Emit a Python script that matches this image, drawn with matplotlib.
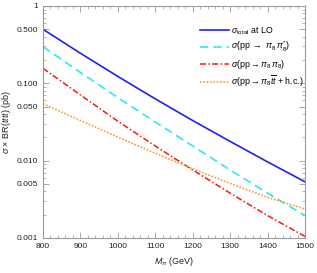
import numpy as np
import matplotlib
matplotlib.use("Agg")
import matplotlib.pyplot as plt
from matplotlib.ticker import FixedLocator, FixedFormatter, NullFormatter

plt.rcParams['font.family'] = ['Liberation Sans', 'DejaVu Sans']
plt.rcParams['mathtext.fontset'] = 'custom'
plt.rcParams['mathtext.rm'] = 'Liberation Sans'
plt.rcParams['mathtext.it'] = 'Liberation Sans:italic'

# data (masses in GeV, cross sections in pb)
mass = [800, 900, 1000, 1100, 1200, 1300, 1400, 1500]
sigma_total = [10**v for v in [-0.301, -0.611, -0.911, -1.201, -1.481, -1.751, -2.016, -2.273]]
sigma_pair_conj = [10**v for v in [-0.526, -0.860, -1.185, -1.50, -1.81, -2.12, -2.42, -2.71]]
sigma_pair = [10**v for v in [-0.806, -1.15, -1.49, -1.81, -2.12, -2.42, -2.71, -2.98]]
sigma_assoc = [10**v for v in [-1.264, -1.48, -1.695, -1.905, -2.105, -2.295, -2.475, -2.625]]

labels = [r"$\sigma_{\rm total}$ at LO",
          r"$\sigma$(pp $\rightarrow$ $\pi_8\,\pi_8^{*}$)",
          r"$\sigma$(pp$\rightarrow$$\pi_8\,\pi_8$)",
          r"$\sigma$(pp$\rightarrow$$\pi_8\overline{tt}$ + h.c.)"]

yticks = [0.001, 0.005, 0.010, 0.050, 0.100, 0.500, 1]
yticklabels = ["0.001", "0.005", "0.010", "0.050", "0.100", "0.500", "1"]
xticks = [800, 900, 1000, 1100, 1200, 1300, 1400, 1500]

fig = plt.figure(figsize=(3.17, 2.73), dpi=100)
ax = fig.add_axes([43/317, 1-238/273, (305-43)/317, (238-6)/273])

ax.plot(mass, sigma_total, color='#2020f0', lw=1.2, ls='-', label=labels[0])
ax.plot(mass, sigma_pair_conj, color='#30e8e8', lw=1.2, ls=(0, (5, 3)), label=labels[1])
ax.plot(mass, sigma_pair, color='#f01818', lw=1.1, ls=(0, (4, 1.5, 1, 1.5)), label=labels[2])
ax.plot(mass, sigma_assoc, color='#ff9933', lw=1.2, ls=(0, (1, 1)), label=labels[3])

ax.set_yscale('log')
ax.set_xlim(800, 1500)
ax.set_ylim(0.001, 1)
ax.yaxis.set_major_locator(FixedLocator(yticks))
ax.yaxis.set_major_formatter(FixedFormatter(yticklabels))
minor_y = []
for dec in [0.001, 0.01, 0.1]:
    for k in range(2, 10):
        if k != 5:
            minor_y.append(dec * k)
ax.yaxis.set_minor_locator(FixedLocator(minor_y))
ax.yaxis.set_minor_formatter(NullFormatter())
ax.xaxis.set_major_locator(FixedLocator(xticks))
ax.xaxis.set_minor_locator(FixedLocator([x for x in range(800, 1501, 20) if x % 100]))

for s in ax.spines.values():
    s.set_color('#999999')
    s.set_linewidth(0.8)
ax.tick_params(which='both', direction='in', top=True, right=True, colors='#999999',
               labelcolor='#222222', labelsize=6)
ax.tick_params(which='major', length=4, width=0.6)
ax.tick_params(which='minor', length=2, width=0.5)

ax.set_xlabel(r"$M_{\pi}$ (GeV)", fontsize=6.5, color='#222222', labelpad=4)
ax.set_ylabel(r"$\sigma$ $\times$ BR($t\bar{t}t\bar{t}$) (pb)", fontsize=6.5, color='#222222')
ax.yaxis.set_label_coords(-0.112, 0.5)

leg = ax.legend(loc='upper right', bbox_to_anchor=(1.006, 0.933), frameon=False, fontsize=6.3,
                handlelength=3.3, handletextpad=0.2, labelspacing=0.4, borderaxespad=0)

fig.savefig('out.png', dpi=100)
